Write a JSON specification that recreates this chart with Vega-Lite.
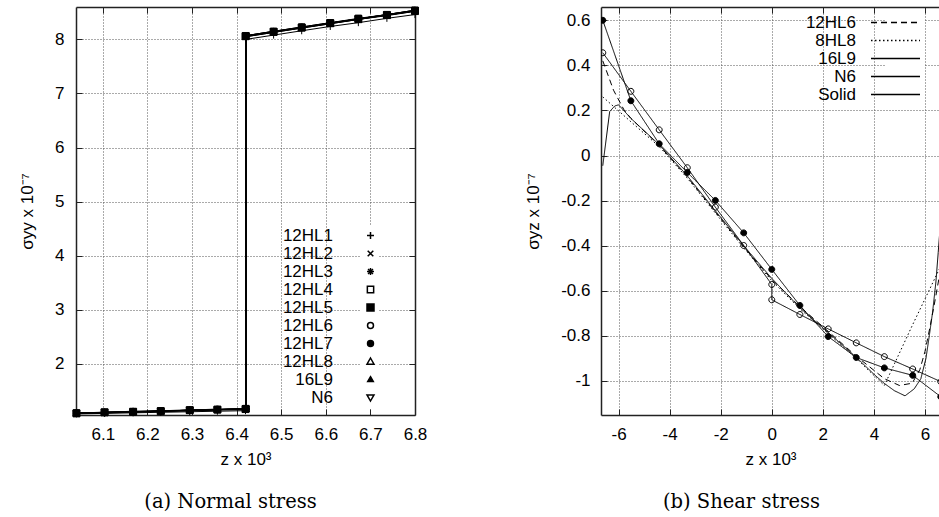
{
  "$schema": "https://vega.github.io/schema/vega-lite/v6.json",
  "background": "white",
  "padding": {"left": 18, "top": 5, "right": 0, "bottom": 0},
  "config": {
    "view": {"stroke": null},
    "axis": {
      "labelFont": "Liberation Sans", "labelFontSize": 17, "labelColor": "black",
      "titleFont": "Liberation Sans", "titleFontSize": 17, "titleFontWeight": "normal", "titleColor": "black",
      "gridColor": "#555", "gridDash": [1, 2], "gridWidth": 1, "gridOpacity": 1,
      "domainColor": "#222", "domainWidth": 1.5,
      "tickColor": "#222", "tickWidth": 1, "tickSize": -6,
      "labelFlush": false, "labelOverlap": false
    },
    "legend": {"labelFont": "Liberation Sans", "labelFontSize": 17, "labelColor": "black", "labelLimit": 300},
    "title": {"font": "DejaVu Serif", "fontSize": 19.5, "fontWeight": "normal", "color": "black", "orient": "bottom", "anchor": "middle"}
  },
  "datasets": {
    "normal": [
      {"s":"12HL1","i":0,"z":6.041,"v":1.07},{"s":"12HL1","i":1,"z":6.104,"v":1.08},{"s":"12HL1","i":2,"z":6.168,"v":1.09},{"s":"12HL1","i":3,"z":6.23,"v":1.10},{"s":"12HL1","i":4,"z":6.295,"v":1.11},{"s":"12HL1","i":5,"z":6.357,"v":1.12},{"s":"12HL1","i":6,"z":6.42,"v":1.13},{"s":"12HL1","i":7,"z":6.42,"v":8.00},{"s":"12HL1","i":8,"z":6.483,"v":8.08},{"s":"12HL1","i":9,"z":6.546,"v":8.16},{"s":"12HL1","i":10,"z":6.61,"v":8.24},{"s":"12HL1","i":11,"z":6.673,"v":8.31},{"s":"12HL1","i":12,"z":6.737,"v":8.39},{"s":"12HL1","i":13,"z":6.8,"v":8.46},
      {"s":"12HL2","i":0,"z":6.041,"v":1.08},{"s":"12HL2","i":1,"z":6.104,"v":1.09},{"s":"12HL2","i":2,"z":6.168,"v":1.11},{"s":"12HL2","i":3,"z":6.23,"v":1.12},{"s":"12HL2","i":4,"z":6.295,"v":1.13},{"s":"12HL2","i":5,"z":6.357,"v":1.15},{"s":"12HL2","i":6,"z":6.421,"v":1.16},{"s":"12HL2","i":7,"z":6.421,"v":8.05},{"s":"12HL2","i":8,"z":6.483,"v":8.13},{"s":"12HL2","i":9,"z":6.546,"v":8.21},{"s":"12HL2","i":10,"z":6.61,"v":8.29},{"s":"12HL2","i":11,"z":6.673,"v":8.37},{"s":"12HL2","i":12,"z":6.737,"v":8.44},{"s":"12HL2","i":13,"z":6.8,"v":8.52},
      {"s":"12HL3","i":0,"z":6.041,"v":1.08},{"s":"12HL3","i":1,"z":6.104,"v":1.10},{"s":"12HL3","i":2,"z":6.168,"v":1.11},{"s":"12HL3","i":3,"z":6.23,"v":1.12},{"s":"12HL3","i":4,"z":6.295,"v":1.14},{"s":"12HL3","i":5,"z":6.357,"v":1.15},{"s":"12HL3","i":6,"z":6.422,"v":1.16},{"s":"12HL3","i":7,"z":6.422,"v":8.06},{"s":"12HL3","i":8,"z":6.483,"v":8.14},{"s":"12HL3","i":9,"z":6.546,"v":8.22},{"s":"12HL3","i":10,"z":6.61,"v":8.30},{"s":"12HL3","i":11,"z":6.673,"v":8.38},{"s":"12HL3","i":12,"z":6.737,"v":8.45},{"s":"12HL3","i":13,"z":6.8,"v":8.53},
      {"s":"12HL4","i":0,"z":6.041,"v":1.09},{"s":"12HL4","i":1,"z":6.104,"v":1.10},{"s":"12HL4","i":2,"z":6.168,"v":1.11},{"s":"12HL4","i":3,"z":6.23,"v":1.13},{"s":"12HL4","i":4,"z":6.295,"v":1.14},{"s":"12HL4","i":5,"z":6.357,"v":1.15},{"s":"12HL4","i":6,"z":6.421,"v":1.17},{"s":"12HL4","i":7,"z":6.421,"v":8.07},{"s":"12HL4","i":8,"z":6.483,"v":8.15},{"s":"12HL4","i":9,"z":6.546,"v":8.23},{"s":"12HL4","i":10,"z":6.61,"v":8.31},{"s":"12HL4","i":11,"z":6.673,"v":8.39},{"s":"12HL4","i":12,"z":6.737,"v":8.46},{"s":"12HL4","i":13,"z":6.8,"v":8.54},
      {"s":"12HL6","i":0,"z":6.041,"v":1.08},{"s":"12HL6","i":1,"z":6.104,"v":1.09},{"s":"12HL6","i":2,"z":6.168,"v":1.11},{"s":"12HL6","i":3,"z":6.23,"v":1.12},{"s":"12HL6","i":4,"z":6.295,"v":1.13},{"s":"12HL6","i":5,"z":6.357,"v":1.15},{"s":"12HL6","i":6,"z":6.422,"v":1.16},{"s":"12HL6","i":7,"z":6.422,"v":8.07},{"s":"12HL6","i":8,"z":6.483,"v":8.15},{"s":"12HL6","i":9,"z":6.546,"v":8.23},{"s":"12HL6","i":10,"z":6.61,"v":8.31},{"s":"12HL6","i":11,"z":6.673,"v":8.38},{"s":"12HL6","i":12,"z":6.737,"v":8.46},{"s":"12HL6","i":13,"z":6.8,"v":8.54},
      {"s":"12HL7","i":0,"z":6.041,"v":1.09},{"s":"12HL7","i":1,"z":6.104,"v":1.10},{"s":"12HL7","i":2,"z":6.168,"v":1.12},{"s":"12HL7","i":3,"z":6.23,"v":1.13},{"s":"12HL7","i":4,"z":6.295,"v":1.14},{"s":"12HL7","i":5,"z":6.357,"v":1.16},{"s":"12HL7","i":6,"z":6.42,"v":1.17},{"s":"12HL7","i":7,"z":6.42,"v":8.06},{"s":"12HL7","i":8,"z":6.483,"v":8.14},{"s":"12HL7","i":9,"z":6.546,"v":8.22},{"s":"12HL7","i":10,"z":6.61,"v":8.30},{"s":"12HL7","i":11,"z":6.673,"v":8.37},{"s":"12HL7","i":12,"z":6.737,"v":8.45},{"s":"12HL7","i":13,"z":6.8,"v":8.53},
      {"s":"12HL8","i":0,"z":6.041,"v":1.08},{"s":"12HL8","i":1,"z":6.104,"v":1.10},{"s":"12HL8","i":2,"z":6.168,"v":1.11},{"s":"12HL8","i":3,"z":6.23,"v":1.12},{"s":"12HL8","i":4,"z":6.295,"v":1.14},{"s":"12HL8","i":5,"z":6.357,"v":1.15},{"s":"12HL8","i":6,"z":6.421,"v":1.16},{"s":"12HL8","i":7,"z":6.421,"v":8.05},{"s":"12HL8","i":8,"z":6.483,"v":8.13},{"s":"12HL8","i":9,"z":6.546,"v":8.21},{"s":"12HL8","i":10,"z":6.61,"v":8.29},{"s":"12HL8","i":11,"z":6.673,"v":8.37},{"s":"12HL8","i":12,"z":6.737,"v":8.45},{"s":"12HL8","i":13,"z":6.8,"v":8.52},
      {"s":"16L9","i":0,"z":6.041,"v":1.08},{"s":"16L9","i":1,"z":6.104,"v":1.09},{"s":"16L9","i":2,"z":6.168,"v":1.10},{"s":"16L9","i":3,"z":6.23,"v":1.12},{"s":"16L9","i":4,"z":6.295,"v":1.13},{"s":"16L9","i":5,"z":6.357,"v":1.14},{"s":"16L9","i":6,"z":6.422,"v":1.15},{"s":"16L9","i":7,"z":6.422,"v":8.06},{"s":"16L9","i":8,"z":6.483,"v":8.14},{"s":"16L9","i":9,"z":6.546,"v":8.22},{"s":"16L9","i":10,"z":6.61,"v":8.30},{"s":"16L9","i":11,"z":6.673,"v":8.38},{"s":"16L9","i":12,"z":6.737,"v":8.46},{"s":"16L9","i":13,"z":6.8,"v":8.53},
      {"s":"N6","i":0,"z":6.041,"v":1.08},{"s":"N6","i":1,"z":6.104,"v":1.10},{"s":"N6","i":2,"z":6.168,"v":1.11},{"s":"N6","i":3,"z":6.23,"v":1.12},{"s":"N6","i":4,"z":6.295,"v":1.14},{"s":"N6","i":5,"z":6.357,"v":1.15},{"s":"N6","i":6,"z":6.421,"v":1.16},{"s":"N6","i":7,"z":6.421,"v":8.07},{"s":"N6","i":8,"z":6.483,"v":8.15},{"s":"N6","i":9,"z":6.546,"v":8.22},{"s":"N6","i":10,"z":6.61,"v":8.30},{"s":"N6","i":11,"z":6.673,"v":8.38},{"s":"N6","i":12,"z":6.737,"v":8.46},{"s":"N6","i":13,"z":6.8,"v":8.54},
      {"s":"12HL5","i":0,"z":6.041,"v":1.08},{"s":"12HL5","i":1,"z":6.104,"v":1.10},{"s":"12HL5","i":2,"z":6.168,"v":1.11},{"s":"12HL5","i":3,"z":6.23,"v":1.12},{"s":"12HL5","i":4,"z":6.295,"v":1.14},{"s":"12HL5","i":5,"z":6.357,"v":1.15},{"s":"12HL5","i":6,"z":6.42,"v":1.16},{"s":"12HL5","i":7,"z":6.42,"v":8.06},{"s":"12HL5","i":8,"z":6.483,"v":8.14},{"s":"12HL5","i":9,"z":6.546,"v":8.22},{"s":"12HL5","i":10,"z":6.61,"v":8.30},{"s":"12HL5","i":11,"z":6.673,"v":8.38},{"s":"12HL5","i":12,"z":6.737,"v":8.45},{"s":"12HL5","i":13,"z":6.8,"v":8.53}
    ],
    "shear": [
      {"m":"12HL6","i":0,"z":-6.62,"v":0.42},{"m":"12HL6","i":1,"z":-6.2,"v":0.29},{"m":"12HL6","i":2,"z":-5.8,"v":0.205},{"m":"12HL6","i":3,"z":-5.52,"v":0.165},{"m":"12HL6","i":4,"z":-4.41,"v":0.045},{"m":"12HL6","i":5,"z":-3.31,"v":-0.095},{"m":"12HL6","i":6,"z":-2.21,"v":-0.25},{"m":"12HL6","i":7,"z":-1.1,"v":-0.405},{"m":"12HL6","i":8,"z":0,"v":-0.55},{"m":"12HL6","i":9,"z":1.1,"v":-0.67},{"m":"12HL6","i":10,"z":2.21,"v":-0.78},{"m":"12HL6","i":11,"z":3.31,"v":-0.89},{"m":"12HL6","i":12,"z":4.41,"v":-0.99},{"m":"12HL6","i":13,"z":5.0,"v":-1.02},{"m":"12HL6","i":14,"z":5.5,"v":-1.01},{"m":"12HL6","i":15,"z":5.8,"v":-0.95},{"m":"12HL6","i":16,"z":6.0,"v":-0.87},{"m":"12HL6","i":17,"z":6.2,"v":-0.76},{"m":"12HL6","i":18,"z":6.4,"v":-0.64},{"m":"12HL6","i":19,"z":6.62,"v":-0.5},
      {"m":"8HL8","i":0,"z":-6.62,"v":0.26},{"m":"8HL8","i":1,"z":-5.52,"v":0.15},{"m":"8HL8","i":2,"z":-4.41,"v":0.04},{"m":"8HL8","i":3,"z":-3.31,"v":-0.1},{"m":"8HL8","i":4,"z":-2.21,"v":-0.255},{"m":"8HL8","i":5,"z":-1.1,"v":-0.41},{"m":"8HL8","i":6,"z":0,"v":-0.555},{"m":"8HL8","i":7,"z":1.1,"v":-0.68},{"m":"8HL8","i":8,"z":2.21,"v":-0.79},{"m":"8HL8","i":9,"z":3.31,"v":-0.9},{"m":"8HL8","i":10,"z":4.41,"v":-1.02},{"m":"8HL8","i":11,"z":5.52,"v":-0.75},{"m":"8HL8","i":12,"z":6.62,"v":-0.49},
      {"m":"16L9","i":0,"z":-6.62,"v":0.456},{"m":"16L9","i":1,"z":-5.52,"v":0.285},{"m":"16L9","i":2,"z":-4.41,"v":0.114},{"m":"16L9","i":3,"z":-3.31,"v":-0.054},{"m":"16L9","i":4,"z":-2.21,"v":-0.229},{"m":"16L9","i":5,"z":-1.1,"v":-0.399},{"m":"16L9","i":6,"z":0,"v":-0.572},{"m":"16L9","i":7,"z":0,"v":-0.64},{"m":"16L9","i":8,"z":1.1,"v":-0.705},{"m":"16L9","i":9,"z":2.21,"v":-0.769},{"m":"16L9","i":10,"z":3.31,"v":-0.831},{"m":"16L9","i":11,"z":4.41,"v":-0.892},{"m":"16L9","i":12,"z":5.52,"v":-0.947},{"m":"16L9","i":13,"z":6.62,"v":-1.003},
      {"m":"N6","i":0,"z":-6.62,"v":0.6},{"m":"N6","i":1,"z":-5.52,"v":0.243},{"m":"N6","i":2,"z":-4.41,"v":0.052},{"m":"N6","i":3,"z":-3.31,"v":-0.075},{"m":"N6","i":4,"z":-2.21,"v":-0.199},{"m":"N6","i":5,"z":-1.1,"v":-0.343},{"m":"N6","i":6,"z":0,"v":-0.505},{"m":"N6","i":7,"z":1.1,"v":-0.665},{"m":"N6","i":8,"z":2.21,"v":-0.803},{"m":"N6","i":9,"z":3.31,"v":-0.896},{"m":"N6","i":10,"z":4.41,"v":-0.942},{"m":"N6","i":11,"z":5.52,"v":-0.975},{"m":"N6","i":12,"z":6.62,"v":-1.07},
      {"m":"Solid","i":0,"z":-6.62,"v":-0.045},{"m":"Solid","i":1,"z":-6.35,"v":0.195},{"m":"Solid","i":2,"z":-6.15,"v":0.22},{"m":"Solid","i":3,"z":-6.0,"v":0.225},{"m":"Solid","i":4,"z":-5.52,"v":0.165},{"m":"Solid","i":5,"z":-4.41,"v":0.048},{"m":"Solid","i":6,"z":-3.31,"v":-0.09},{"m":"Solid","i":7,"z":-2.21,"v":-0.245},{"m":"Solid","i":8,"z":-1.1,"v":-0.4},{"m":"Solid","i":9,"z":0,"v":-0.545},{"m":"Solid","i":10,"z":1.1,"v":-0.675},{"m":"Solid","i":11,"z":2.21,"v":-0.785},{"m":"Solid","i":12,"z":3.31,"v":-0.895},{"m":"Solid","i":13,"z":4.0,"v":-0.97},{"m":"Solid","i":14,"z":4.4,"v":-1.01},{"m":"Solid","i":15,"z":4.8,"v":-1.043},{"m":"Solid","i":16,"z":5.22,"v":-1.066},{"m":"Solid","i":17,"z":5.58,"v":-1.035},{"m":"Solid","i":18,"z":5.84,"v":-0.99},{"m":"Solid","i":19,"z":6.04,"v":-0.9},{"m":"Solid","i":20,"z":6.17,"v":-0.8},{"m":"Solid","i":21,"z":6.3,"v":-0.695},{"m":"Solid","i":22,"z":6.43,"v":-0.56},{"m":"Solid","i":23,"z":6.52,"v":-0.43},{"m":"Solid","i":24,"z":6.59,"v":-0.325},{"m":"Solid","i":25,"z":6.62,"v":-0.28}
    ]
  },
  "hconcat": [
    {
      "width": 339, "height": 408,
      "title": {"text": "(a) Normal stress", "offset": 26, "dx": -15},
      "data": {"name": "normal"},
      "layer": [
        {
          "mark": {"type": "line", "color": "black", "strokeWidth": 1},
          "encoding": {
            "x": {"field": "z", "type": "quantitative", "scale": {"domain": [6.04, 6.8], "nice": false, "zero": false},
                  "axis": {"orient": "bottom", "values": [6.1, 6.2, 6.3, 6.4, 6.5, 6.6, 6.7, 6.8], "labelExpr": "'' + datum.value", "title": "z x 10³", "grid": true, "labelPadding": 17, "titlePadding": 9}},
            "y": {"field": "v", "type": "quantitative", "scale": {"domain": [1.05, 8.6], "nice": false, "zero": false},
                  "axis": {"orient": "left", "values": [2, 3, 4, 5, 6, 7, 8], "labelExpr": "'' + datum.value", "title": "σyy x 10⁻⁷", "grid": true, "labelPadding": 18, "titlePadding": 18}},
            "detail": {"field": "s", "type": "nominal"},
            "order": {"field": "i", "type": "quantitative"}
          }
        },
        {
          "mark": {"type": "point", "size": 49, "stroke": "black", "strokeWidth": 1, "opacity": 1, "filled": true},
          "encoding": {
            "x": {"field": "z", "type": "quantitative", "scale": {"domain": [6.04, 6.8], "nice": false, "zero": false},
                  "axis": {"orient": "top", "values": [6.1, 6.2, 6.3, 6.4, 6.5, 6.6, 6.7, 6.8], "labels": false, "title": null, "grid": false}},
            "y": {"field": "v", "type": "quantitative", "scale": {"domain": [1.05, 8.6], "nice": false, "zero": false},
                  "axis": {"orient": "right", "values": [2, 3, 4, 5, 6, 7, 8], "labels": false, "title": null, "grid": false}},
            "shape": {"field": "s", "type": "nominal",
              "scale": {"domain": ["12HL1","12HL2","12HL3","12HL4","12HL5","12HL6","12HL7","12HL8","16L9","N6"],
                        "range": ["M-1,0L1,0M0,-1L0,1", "M-0.8,-0.8L0.8,0.8M-0.8,0.8L0.8,-0.8", "M-1,0L1,0M0,-1L0,1M-0.7,-0.7L0.7,0.7M-0.7,0.7L0.7,-0.7", "M-0.9,-0.9L0.9,-0.9L0.9,0.9L-0.9,0.9Z", "M-1,-1L1,-1L1,1L-1,1Z", "M-0.85,0A0.85,0.85,0,1,0,0.85,0A0.85,0.85,0,1,0,-0.85,0Z", "M-0.85,0A0.85,0.85,0,1,0,0.85,0A0.85,0.85,0,1,0,-0.85,0Z", "M0,-1L1,0.75L-1,0.75Z", "M0,-0.8L0.8,0.6L-0.8,0.6Z", "M0,1L1,-0.75L-1,-0.75Z"]},
              "legend": {
                "orient": "none", "legendX": 284, "legendY": 218, "title": null,
                "labelAlign": "right", "labelOffset": -46, "symbolSize": 49, "rowPadding": 0, "padding": 2, "fillColor": "white",
                "encode": {"symbols": {
                  "fill": {"condition": {"test": "indexOf(['12HL5','12HL7','16L9'], datum.value) >= 0", "value": "black"}, "value": "transparent"},
                  "stroke": {"value": "black"}, "strokeWidth": {"value": 1}, "opacity": {"value": 1}
                }}
              }
            },
            "fill": {"field": "s", "type": "nominal",
              "scale": {"domain": ["12HL1","12HL2","12HL3","12HL4","12HL5","12HL6","12HL7","12HL8","16L9","N6"],
                        "range": ["transparent","transparent","transparent","transparent","black","transparent","black","transparent","black","transparent"]},
              "legend": null}
          }
        }
      ],
      "resolve": {"axis": {"x": "independent", "y": "independent"}}
    },
    {
      "width": 339, "height": 408,
      "title": {"text": "(b) Shear stress", "offset": 26, "dx": -29},
      "data": {"name": "shear"},
      "layer": [
        {
          "mark": {"type": "line", "color": "black", "strokeWidth": 1, "clip": true},
          "encoding": {
            "x": {"field": "z", "type": "quantitative", "scale": {"domain": [-6.69, 6.59], "nice": false, "zero": false},
                  "axis": {"orient": "bottom", "values": [-6, -4, -2, 0, 2, 4, 6], "labelExpr": "'' + datum.value", "title": "z  x 10³", "grid": true, "labelPadding": 17, "titlePadding": 9}},
            "y": {"field": "v", "type": "quantitative", "scale": {"domain": [-1.151, 0.659], "nice": false, "zero": false},
                  "axis": {"orient": "left", "values": [-1, -0.8, -0.6, -0.4, -0.2, 0, 0.2, 0.4, 0.6], "labelExpr": "'' + datum.value", "title": "σyz  x 10⁻⁷", "grid": true, "labelPadding": 17, "titlePadding": 18}},
            "strokeDash": {"field": "m", "type": "nominal",
              "scale": {"domain": ["12HL6","8HL8","16L9","N6","Solid"], "range": [[6,4],[1.5,2.5],[1,0],[1,0],[1,0]]},
              "legend": {"orient": "none", "legendX": 284, "legendY": 5, "title": null, "labelAlign": "right", "labelOffset": -48, "symbolSize": 49, "rowPadding": 0, "padding": 2, "fillColor": "white", "symbolType": "M-7,0L7,0"}
            },
            "order": {"field": "i", "type": "quantitative"}
          }
        },
        {
          "transform": [{"filter": "datum.m === '16L9' || datum.m === 'N6'"}],
          "mark": {"type": "point", "shape": "M-0.85,0A0.85,0.85,0,1,0,0.85,0A0.85,0.85,0,1,0,-0.85,0Z", "size": 49, "stroke": "black", "strokeWidth": 1, "opacity": 1, "filled": true, "clip": true},
          "encoding": {
            "x": {"field": "z", "type": "quantitative", "scale": {"domain": [-6.69, 6.59], "nice": false, "zero": false},
                  "axis": {"orient": "top", "values": [-6, -4, -2, 0, 2, 4, 6], "labels": false, "title": null, "grid": false}},
            "y": {"field": "v", "type": "quantitative", "scale": {"domain": [-1.151, 0.659], "nice": false, "zero": false}},
            "fill": {"field": "m", "type": "nominal", "scale": {"domain": ["16L9", "N6"], "range": ["transparent", "black"]}, "legend": null}
          }
        }
      ],
      "resolve": {"axis": {"x": "independent"}}
    }
  ],
  "spacing": 97,
  "resolve": {
    "scale": {"shape": "independent", "fill": "independent", "strokeDash": "independent"},
    "legend": {"shape": "independent", "fill": "independent", "strokeDash": "independent"}
  }
}
